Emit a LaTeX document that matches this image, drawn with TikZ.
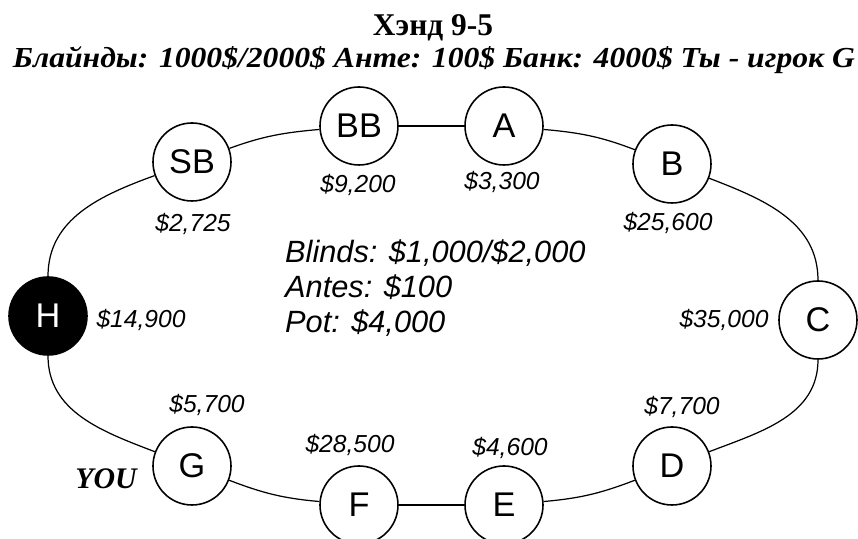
\documentclass[tikz,border=0pt]{standalone}
\usepackage{fontspec}
\usepackage{graphicx}
\setmainfont{Liberation Serif}
\setsansfont{Liberation Sans}
\begin{document}
\begin{tikzpicture}[
  seat/.style={circle, draw, line width=0.9pt, fill=white, minimum size=1.56cm,
    inner sep=0pt, font=\sffamily\fontsize{19.5}{22}\selectfont},
  stack/.style={font=\sffamily\itshape\fontsize{14}{16}\selectfont},
  info/.style={anchor=base west, font=\sffamily\itshape\fontsize{17.5}{20}\selectfont},
  rail/.style={line width=0.7pt}
]
  \useasboundingbox (0,0) rectangle (17.16,10.78);

  % Header
  \node[anchor=base, inner sep=0pt, font=\bfseries\fontsize{18}{20}\selectfont] (hand) at (8.66,10.06)
    {\resizebox{2.4cm}{\height}{Хэнд 9-5}};
  \node[anchor=base, inner sep=0pt, font=\bfseries\itshape\fontsize{16.5}{19}\selectfont] (blindsru) at (8.68,9.42)
    {\resizebox{16.84cm}{\height}{Блайнды: 1000\$/2000\$ Анте: 100\$ Банк: 4000\$ Ты - игрок G}};

  % Seats round the table
  \node[seat, fill=black, text=white] (H) at (0.96,4.46) {H};
  \node[seat] (SB) at (3.84,7.54) {SB};
  \node[seat] (BB) at (7.18,8.26) {BB};
  \node[seat] (A) at (10.08,8.26) {A};
  \node[seat] (B) at (13.44,7.50) {B};
  \node[seat] (C) at (16.36,4.38) {C};
  \node[seat] (D) at (13.44,1.46) {D};
  \node[seat] (E) at (10.08,0.68) {E};
  \node[seat] (F) at (7.18,0.68) {F};
  \node[seat] (G) at (3.84,1.46) {G};

  % Table edge
  \draw[rail] (H) to[out=90, in=200] (SB);
  \draw[rail] (SB) to[out=20, in=185] (BB);
  \draw[rail] (BB) -- (A);
  \draw[rail] (A) to[out=-5, in=159] (B);
  \draw[rail] (B) to[out=-21, in=90] (C);
  \draw[rail] (C) to[out=-90, in=21] (D);
  \draw[rail] (D) to[out=201, in=5] (E);
  \draw[rail] (E) -- (F);
  \draw[rail] (F) to[out=175, in=-21] (G);
  \draw[rail] (G) to[out=159, in=-90] (H);

  % Stacks
  \node[stack] (stackH) at (2.82,4.38) {\$14,900};
  \node[stack] (stackSB) at (3.86,6.30) {\$2,725};
  \node[stack] (stackBB) at (7.16,7.08) {\$9,200};
  \node[stack] (stackA) at (10.04,7.14) {\$3,300};
  \node[stack] (stackB) at (13.36,6.32) {\$25,600};
  \node[stack] (stackC) at (14.48,4.38) {\$35,000};
  \node[stack] (stackD) at (13.64,2.64) {\$7,700};
  \node[stack] (stackE) at (10.20,1.82) {\$4,600};
  \node[stack] (stackF) at (7.00,1.88) {\$28,500};
  \node[stack] (stackG) at (4.14,2.68) {\$5,700};

  % Hand info
  \node[info] (blinds) at (5.58,5.52) {Blinds: \$1,000/\$2,000};
  \node[info] (antes) at (5.58,4.82) {Antes: \$100};
  \node[info] (pot) at (5.58,4.12) {Pot: \$4,000};

  \node[font=\bfseries\itshape\fontsize{17}{20}\selectfont] (you) at (2.12,1.20) {YOU};
\end{tikzpicture}
\end{document}
